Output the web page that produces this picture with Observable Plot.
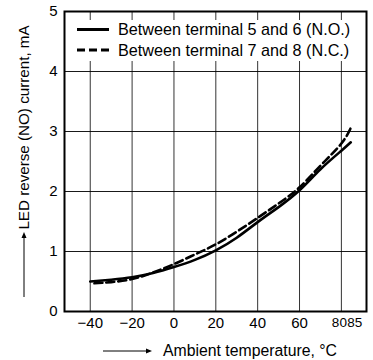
<!DOCTYPE html>
<html><head><meta charset="utf-8">
<script src="https://cdn.jsdelivr.net/npm/d3@7"></script>
<script src="https://cdn.jsdelivr.net/npm/@observablehq/plot@0.6"></script>
<style>
body{margin:0;background:#fff}
svg{font-family:"Liberation Sans",Arial,Helvetica,sans-serif}
</style>
</head><body><div id="chart"></div>
<script>
// Data
const tempsNO = [-40, -30, -20, -10, 0, 10, 20, 30, 40, 50, 60, 70, 80, 84.5];
const currentNO = [0.50, 0.53, 0.57, 0.64, 0.74, 0.86, 1.02, 1.23, 1.49, 1.74, 2.02, 2.37, 2.68, 2.82];
const tempsNC = [-38, -30, -20, -10, 0, 10, 20, 30, 40, 50, 60, 70, 80, 85];
const currentNC = [0.47, 0.49, 0.54, 0.65, 0.79, 0.95, 1.12, 1.33, 1.56, 1.80, 2.07, 2.43, 2.80, 3.10];
const seriesNames = ["Between terminal 5 and 6 (N.O.)", "Between terminal 7 and 8 (N.C.)"];
const xMainTicks = [-40, -20, 0, 20, 40, 60];
const xEndTicks = [80, 85];
const xGridTicks = [-40, -20, 0, 20, 40, 60, 80];
const yTicks = [0, 1, 2, 3, 4, 5];
const xLabel = "Ambient temperature, °C";
const yLabel = "LED reverse (NO) current, mA";

const rows = [
  ...tempsNO.map((t, i) => ({t, v: currentNO[i], s: seriesNames[0]})),
  ...tempsNC.map((t, i) => ({t, v: currentNC[i], s: seriesNames[1]}))
];

const W = 373, H = 360, ML = 64, MR = 7, MT = 11, MB = 49;

const chart = Plot.plot({
  width: W, height: H,
  marginLeft: ML, marginRight: MR, marginTop: MT, marginBottom: MB,
  style: {fontFamily: '"Liberation Sans", Arial, sans-serif', fontSize: "15px", color: "#000", background: "#fff"},
  x: {domain: [-52.3, 92], label: null},
  y: {domain: [0, 5], label: null},
  marks: [
    Plot.gridX(xGridTicks, {stroke: "#000", strokeOpacity: 0.8, strokeWidth: 1}),
    Plot.gridY(yTicks.slice(1, -1), {stroke: "#000", strokeOpacity: 0.9, strokeWidth: 1}),
    Plot.line(rows.filter(d => d.s === seriesNames[0]), {x: "t", y: "v", curve: "natural", stroke: "#000", strokeWidth: 2.6}),
    Plot.line(rows.filter(d => d.s === seriesNames[1]), {x: "t", y: "v", curve: "natural", stroke: "#000", strokeWidth: 2.6, strokeDasharray: "8,4"}),
    Plot.frame({stroke: "#000", strokeWidth: 2}),
    Plot.axisX({ticks: xMainTicks, tickSize: 0, tickPadding: 6, fontSize: 15, label: null}),
    Plot.axisX({ticks: [xEndTicks[0]], tickSize: 0, tickPadding: 6, fontSize: 13.5, dx: -2, label: null}),
    Plot.axisX({ticks: [xEndTicks[1]], tickSize: 0, tickPadding: 6, fontSize: 13.5, dx: 3, label: null}),
    Plot.axisY({ticks: yTicks, tickSize: 0, tickPadding: 7, fontSize: 15, tickFormat: d3.format("d"), label: null})
  ]
});
document.getElementById("chart").appendChild(chart);

// Legend, axis titles and arrows (layout decorations)
const svg = d3.select(chart);
const lg = svg.append("g");
lg.append("rect").attr("x", ML + 6).attr("y", MT + 9).attr("width", 282).attr("height", 41).attr("fill", "#fff").attr("stroke", "none");
const rowsY = [MT + 18.5, MT + 39];
[0, 1].forEach(i => {
  lg.append("line").attr("x1", ML + 13).attr("x2", ML + 45).attr("y1", rowsY[i]).attr("y2", rowsY[i])
    .attr("stroke", "#000").attr("stroke-width", 3)
    .attr("stroke-dasharray", i ? "8,4" : null);
  lg.append("text").attr("x", ML + 54).attr("y", rowsY[i]).attr("dy", "0.36em").attr("text-anchor", "start")
    .attr("font-size", 16.2).attr("fill", "#000").text(seriesNames[i]);
});
// y title with arrow
svg.append("text").attr("transform", "translate(24,127.5) rotate(-90)")
  .attr("text-anchor", "middle").attr("dy", "0.36em").attr("font-size", 15.2).attr("fill", "#000").text(yLabel);
svg.append("line").attr("x1", 24).attr("x2", 24).attr("y1", 297).attr("y2", 236).attr("stroke", "#000").attr("stroke-width", 1);
svg.append("path").attr("d", "M24,232 L21.5,238 L26.5,238 Z").attr("fill", "#000");
// x title with arrow
svg.append("text").attr("x", 163).attr("y", 356).attr("text-anchor", "start").attr("font-size", 15.8).attr("fill", "#000").text(xLabel);
svg.append("line").attr("x1", 103).attr("x2", 148).attr("y1", 351).attr("y2", 351).attr("stroke", "#000").attr("stroke-width", 1);
svg.append("path").attr("d", "M152,351 L146,348.5 L146,353.5 Z").attr("fill", "#000");
</script>
</body></html>
